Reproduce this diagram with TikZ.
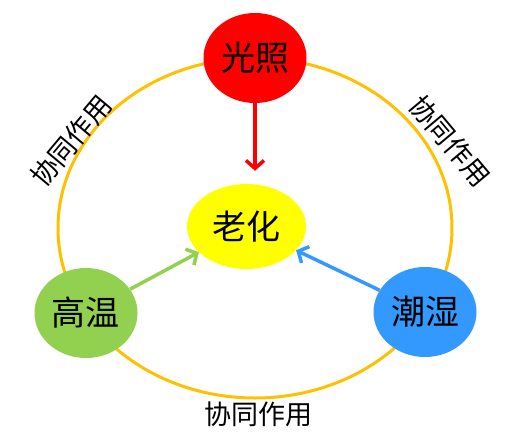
\documentclass[tikz,border=0pt]{standalone}
\usepackage{fontspec}
\setmainfont{Noto Sans CJK SC}
\usepackage{tikz}
\usetikzlibrary{shapes.geometric}
\usetikzlibrary{arrows.meta}

\definecolor{lightred}{HTML}{FF0000}
\definecolor{lightyellow}{HTML}{FFFF00}
\definecolor{grassgreen}{HTML}{92D050}
\definecolor{skyblue}{HTML}{3399FF}
\definecolor{ringgold}{HTML}{FFC000}

\begin{document}
\begin{tikzpicture}[x=1pt, y=-1pt,
  factor/.style={ellipse, inner sep=0pt, minimum width=103pt, minimum height=90pt, font=\fontsize{34}{34}\selectfont},
  effect/.style={-{Straight Barb[length=8pt, width=18pt, line width=3.5pt]}, line width=3.5pt},
  synergy/.style={font=\fontsize{27}{27}\selectfont}]
\useasboundingbox (0,0) rectangle (512,440);

\node[ellipse, draw=ringgold, line width=3pt, minimum width=394pt, minimum height=340pt] (ring) at (255,228) {};

\node[synergy, rotate=50] (left) at (71,141) {协同作用};
\node[synergy, rotate=-50] (right) at (450,141) {协同作用};
\node[synergy] (bottom) at (258,414) {协同作用};

  \node[factor, fill=lightred] (light) at (255,58) {光照};
  \node[factor, fill=grassgreen] (heat) at (86,313) {高温};
  \node[factor, fill=skyblue] (damp) at (425,312) {潮湿};
  \node[factor, fill=lightyellow, minimum width=119pt, minimum height=85pt] (aging) at (246.5,226.5) {老化};

  \draw[effect, lightred, shorten >=13pt] (light) -- (light |- aging.north);
  \draw[effect, grassgreen] (heat) -- (aging);
  \draw[effect, skyblue] (damp) -- (aging);

\end{tikzpicture}
\end{document}
